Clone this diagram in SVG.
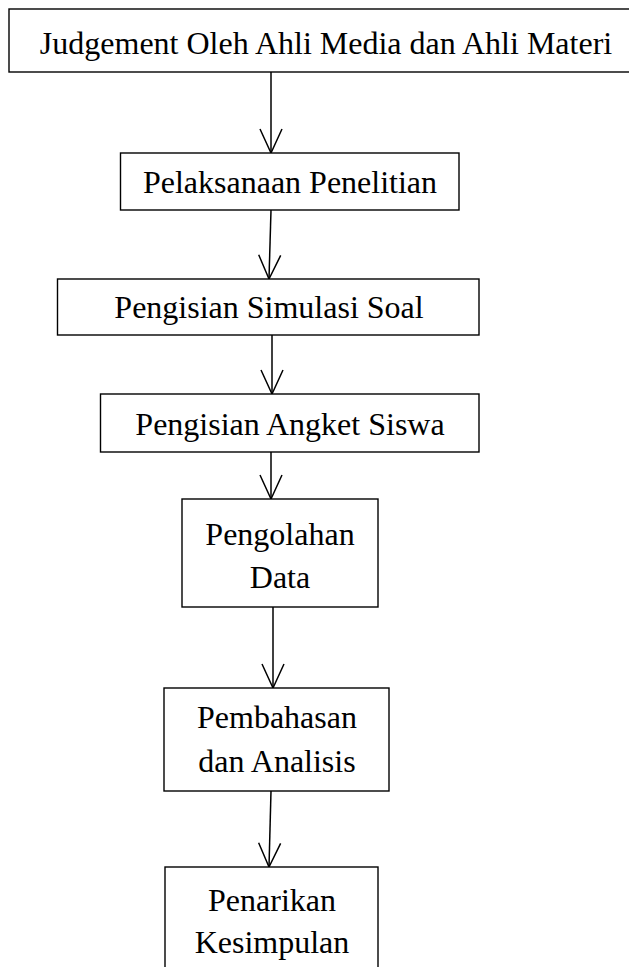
<svg xmlns="http://www.w3.org/2000/svg" width="629" height="967" viewBox="0 0 629 967">
<style>
.box{fill:#fff;stroke:#000;stroke-width:1.4}
.t{font-family:"Liberation Serif","Times New Roman",serif;font-size:32px;fill:#000;text-anchor:middle}
.c{fill:none;stroke:#000;stroke-width:1.5}
</style>
<defs>
<marker id="v" viewBox="-26 -13 28 26" refX="0" refY="0" markerWidth="28" markerHeight="26" markerUnits="userSpaceOnUse" orient="auto">
<path d="M-24,-11 L0,0 L-24,11" fill="none" stroke="#000" stroke-width="1.5"/>
</marker>
</defs>
<rect width="629" height="967" fill="#fff"/>
<g id="connectors">
<path class="c" d="M271,72 L271,153" marker-end="url(#v)"/>
<path class="c" d="M271,210 L269,279" marker-end="url(#v)"/>
<path class="c" d="M272,335 L272,394" marker-end="url(#v)"/>
<path class="c" d="M271,452 L271,499" marker-end="url(#v)"/>
<path class="c" d="M273,607 L273,688" marker-end="url(#v)"/>
<path class="c" d="M271,791 L269,867" marker-end="url(#v)"/>
</g>
<g id="n1"><rect class="box" x="9" y="9" width="625" height="63"/><text class="t" x="326" y="54">Judgement Oleh Ahli Media dan Ahli Materi</text></g>
<g id="n2"><rect class="box" x="120.5" y="153" width="338.5" height="57"/><text class="t" x="290" y="193">Pelaksanaan Penelitian</text></g>
<g id="n3"><rect class="box" x="57.5" y="279" width="421.5" height="56"/><text class="t" x="269" y="318">Pengisian Simulasi Soal</text></g>
<g id="n4"><rect class="box" x="100.5" y="394" width="378.5" height="58"/><text class="t" x="290" y="435">Pengisian Angket Siswa</text></g>
<g id="n5"><rect class="box" x="182" y="499" width="196" height="108"/><text class="t" x="280" y="545">Pengolahan</text><text class="t" x="280" y="588">Data</text></g>
<g id="n6"><rect class="box" x="164" y="688" width="225" height="103"/><text class="t" x="277" y="728">Pembahasan</text><text class="t" x="277" y="772">dan Analisis</text></g>
<g id="n7"><rect class="box" x="165" y="867" width="213" height="110"/><text class="t" x="272" y="911">Penarikan</text><text class="t" x="272" y="953">Kesimpulan</text></g>
</svg>
